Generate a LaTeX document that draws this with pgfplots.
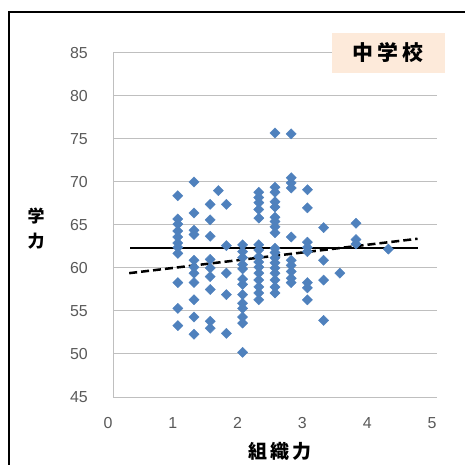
\documentclass[border=0pt]{standalone}
\usepackage{fontspec}
\setmainfont{Liberation Sans}
\newfontfamily\cjk{Noto Sans CJK JP}
\usepackage{pgfplots}
\usepackage{pgfplotstable}
\pgfplotsset{compat=1.18}
\definecolor{pt}{HTML}{4F81BD}
\definecolor{boxfill}{HTML}{FDEADA}
\definecolor{ticktext}{HTML}{595959}
\definecolor{gridc}{HTML}{BFBFBF}

\pgfplotstableread{
x y
1 68.4
1 65.7
1 65.1
1 64.3
1 63.6
1 62.9
1 62.4
1 61.7
1 58.3
1 55.3
1 53.3
1.25 70.0
1.25 66.4
1.25 64.4
1.25 63.9
1.25 60.9
1.25 60.1
1.25 59.4
1.25 58.3
1.25 56.3
1.25 54.3
1.25 52.3
1.5 67.4
1.5 65.6
1.5 63.7
1.5 61.0
1.5 60.0
1.5 59.0
1.5 57.5
1.5 53.8
1.5 53.0
1.625 69.0
1.75 67.4
1.75 62.6
1.75 59.4
1.75 56.9
1.75 52.4
2 62.7
2 61.9
2 61.2
2 60.4
2 59.9
2 58.7
2 58.1
2 56.9
2 55.9
2 55.3
2 54.3
2 53.6
2 50.2
2.25 68.8
2.25 68.2
2.25 67.6
2.25 66.8
2.25 65.8
2.25 62.7
2.25 62.1
2.25 61.3
2.25 60.7
2.25 60.1
2.25 59.4
2.25 58.6
2.25 57.8
2.25 57.1
2.25 56.3
2.5 75.7
2.5 69.4
2.5 68.8
2.5 67.7
2.5 67.1
2.5 65.9
2.5 65.4
2.5 64.8
2.5 64.1
2.5 62.3
2.5 61.8
2.5 61.2
2.5 60.6
2.5 60.0
2.5 59.4
2.5 58.6
2.5 57.8
2.5 57.1
2.75 75.6
2.75 70.5
2.75 69.9
2.75 69.3
2.75 63.6
2.75 60.9
2.75 60.3
2.75 59.6
2.75 58.8
2.75 58.3
3 69.1
3 67.0
3 63.0
3 62.4
3 61.9
3 58.3
3 57.7
3 56.3
3.25 64.7
3.25 60.9
3.25 58.6
3.25 53.9
3.5 59.4
3.75 65.2
3.75 63.3
3.75 62.8
4.25 62.2
}\scores

\begin{document}
\begin{tikzpicture}
\useasboundingbox (0,0) rectangle (465bp,465bp);
% outer chart frame
\draw[line width=2bp] (9bp,-5bp) -- (9bp,453bp) -- (470bp,453bp);
\begin{axis}[
  at={(113bp,68bp)}, anchor=south west,
  scale only axis,
  width=324bp, height=344bp,
  xmin=0, xmax=5, ymin=45, ymax=85,
  xtick={0,1,...,5},
  ytick={45,50,...,85},
  axis lines=left,
  axis line style={-, draw=gridc, line width=1bp},
  ymajorgrids,
  grid style={draw=gridc, line width=1bp},
  major tick length=0pt,
  tick label style={font=\fontsize{16}{18}\selectfont, text=ticktext},
  /pgf/number format/assume math mode=true,
  yticklabel style={anchor=east, inner sep=0pt, xshift=-25bp},
  xticklabel style={anchor=north, inner sep=0pt, yshift=-20bp, xshift=-5bp},
  clip=false,
]
\addplot[only marks, mark=square*, mark size=3.6bp,
  mark options={rotate=45, fill=pt, draw=pt}] table[x=x, y=y] {\scores};
\addplot[black, line width=2.5bp] coordinates {(0.27,62.3) (4.7,62.3)};
\addplot[black, line width=2.5bp, dash pattern=on 8bp off 4bp] coordinates {(0.25,59.4) (4.7,63.4)};
\end{axis}
% label box
\fill[boxfill] (332bp,392bp) rectangle (445bp,432bp);
\node[font=\cjk\bfseries\fontsize{21}{24}\selectfont] at (388bp,412bp) {中\hspace{4.5bp}学\hspace{4.5bp}校};
\node[font=\cjk\bfseries\fontsize{17}{20}\selectfont, align=center, inner sep=0pt] at (36bp,236bp) {学\\[5bp]力};
\node[font=\cjk\bfseries\fontsize{19}{22}\selectfont] at (280bp,14bp) {組\hspace{3bp}織\hspace{3bp}力};
\end{tikzpicture}
\end{document}
